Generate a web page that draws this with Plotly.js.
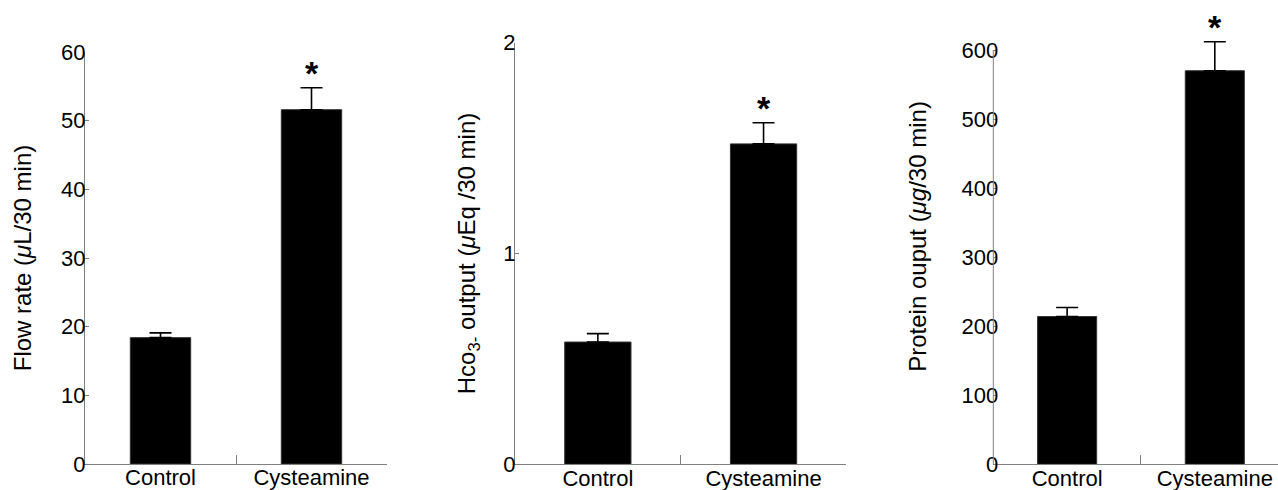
<!DOCTYPE html>
<html>
<head>
<meta charset="utf-8">
<script src="https://cdn.plot.ly/plotly-3.0.1.min.js"></script>
<style>html,body{margin:0;padding:0;background:#fff;}#chart{width:1278px;height:490px;}</style>
</head>
<body>
<div id="chart"></div>
<script>
const categories = ['Control', 'Cysteamine'];
const flowRate = [18.4, 51.6];
const flowRateErr = [0.7, 3.2];
const hco3Output = [0.58, 1.52];
const hco3OutputErr = [0.04, 0.10];
const proteinOutput = [214, 570];
const proteinOutputErr = [13, 42];
const significance = ['', '*'];

const W = 1278, H = 490;
const FONT = 'Liberation Sans, Arial, Helvetica, sans-serif';

function barTrace(vals, errs, xa, ya) {
  return {
    type: 'bar', x: categories, y: vals, xaxis: xa, yaxis: ya, width: 0.4,
    marker: {color: '#000', line: {color: '#333', width: 1}},
    error_y: {type: 'data', array: errs, arrayminus: [0, 0], symmetric: false,
              color: '#000', thickness: 1.6, width: 11},
    hoverinfo: 'skip', showlegend: false
  };
}

const data = [
  barTrace(flowRate, flowRateErr, 'x', 'y'),
  barTrace(hco3Output, hco3OutputErr, 'x2', 'y2'),
  barTrace(proteinOutput, proteinOutputErr, 'x3', 'y3')
];

function xAxis(d0, d1, r1, anchor) {
  return {
    domain: [d0 / W, d1 / W], range: [-0.5, r1], anchor: anchor,
    type: 'category', showline: true, linecolor: '#808080', linewidth: 1,
    ticks: 'inside', tickson: 'boundaries', ticklen: 9, tickcolor: '#808080', tickwidth: 1,
    ticklabelstandoff: -6,
    showgrid: false, zeroline: false, fixedrange: true,
    tickfont: {family: FONT, size: 22, color: '#000'}
  };
}
// yTop: pixel row of the highest tick (tickMax); headroom extends the plotting range above it
function yAxis(yTop, yBottom, tickMax, headroom, dtick, anchor, title, standoff) {
  const pxPerUnit = (yBottom - yTop) / tickMax;
  const rMax = tickMax + headroom;
  const topPx = yBottom - rMax * pxPerUnit;
  return {
    domain: [1 - yBottom / H, 1 - topPx / H], range: [0, rMax], anchor: anchor,
    tickmode: 'linear', tick0: 0, dtick: dtick,
    showline: headroom === 0, linecolor: '#808080', linewidth: 1,
    ticks: 'inside', ticklen: 4, tickcolor: '#808080', tickwidth: 1,
    ticklabelstandoff: -6,
    showgrid: false, zeroline: false, fixedrange: true,
    tickfont: {family: FONT, size: 22, color: '#000'},
    title: {text: title, font: {family: FONT, size: 24, color: '#000'}, standoff: standoff}
  };
}

function starAnn(vals, errs, xr, yr) {
  return categories.map((c, i) => ({
    x: c, y: vals[i] + errs[i], xref: xr, yref: yr, text: significance[i], showarrow: false,
    yanchor: 'middle', yshift: 15,
    font: {family: FONT, size: 34, color: '#000', weight: 'bold'}
  })).filter(a => a.text);
}

const proteinTickMax = 600;

const layout = {
  width: W, height: H, margin: {l: 0, r: 0, t: 0, b: 0},
  paper_bgcolor: '#fff', plot_bgcolor: '#fff', showlegend: false,
  xaxis: xAxis(85, 387, 1.5, 'y'),
  yaxis: yAxis(52, 464, 60, 0, 10, 'x', 'Flow rate (<i>μ</i>L/30 min)', 22),
  xaxis2: xAxis(515, 846.4, 1.5, 'y2'),
  yaxis2: yAxis(42.7, 464.3, 2, 0, 1, 'x2', 'Hco<sub>3-</sub> output (<i>μ</i>Eq /30 min)', 20),
  xaxis3: xAxis(993.3, 1278, 1.428, 'y3'),
  yaxis3: yAxis(50, 464.3, proteinTickMax, 60, 100, 'x3', 'Protein ouput (<i>μg</i>/30 min)', 28),
  shapes: [{
    type: 'line', xref: 'x3 domain', x0: 0, x1: 0, yref: 'y3', y0: 0, y1: proteinTickMax,
    line: {color: '#808080', width: 1}, layer: 'above'
  }],
  annotations: [].concat(
    starAnn(flowRate, flowRateErr, 'x', 'y'),
    starAnn(hco3Output, hco3OutputErr, 'x2', 'y2'),
    starAnn(proteinOutput, proteinOutputErr, 'x3', 'y3')
  )
};

Plotly.newPlot('chart', data, layout, {displayModeBar: false, staticPlot: true});
</script>
</body>
</html>
